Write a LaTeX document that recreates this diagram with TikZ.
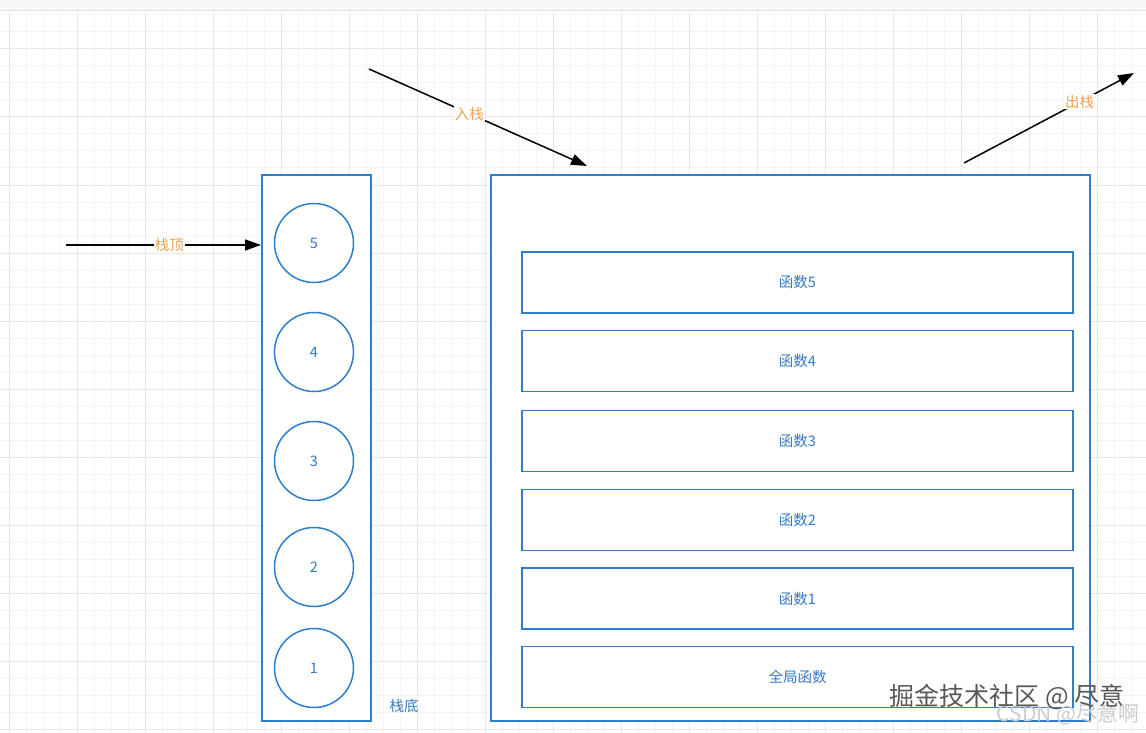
\documentclass[tikz,border=0pt]{standalone}
\usepackage{fontspec}
\setmainfont{Noto Sans CJK SC}
\newfontfamily\cjk{Noto Sans CJK SC}
\usetikzlibrary{arrows.meta}
\definecolor{stroke}{RGB}{47,125,205}
\definecolor{btext}{RGB}{52,122,196}
\definecolor{otext}{RGB}{240,160,80}
\definecolor{gminor}{RGB}{244,244,244}
\definecolor{gmajor}{RGB}{232,232,232}
\definecolor{bandfill}{RGB}{245,246,248}
\definecolor{bandline}{RGB}{225,227,230}
\tikzset{
  minorline/.style={draw=gminor, line width=1pt},
  majorline/.style={draw=gmajor, line width=1pt},
  frame/.style={draw=stroke, line width=1.5pt, fill=white},
  circ/.style={circle, draw=stroke, line width=1.5pt, fill=white, minimum size=79pt, inner sep=0pt, text=btext, font=\cjk\fontsize{14.5}{16}\selectfont},
  fbox/.style={rectangle, draw=stroke, line width=1.5pt, fill=white, minimum width=551pt, minimum height=61pt, inner sep=0pt, text=btext, font=\cjk\fontsize{14.5}{16}\selectfont},
  arr/.style={draw=black, line width=1.5pt, -{Triangle[length=16pt,width=11pt]}},
  lbl/.style={fill=white, inner sep=1pt, text=otext, font=\cjk\fontsize{14.5}{16}\selectfont},
  btlbl/.style={text=btext, inner sep=0pt, font=\cjk\fontsize{14.5}{16}\selectfont},
  wm/.style={inner sep=0pt, text=black!65, font=\cjk\fontsize{25}{27}\selectfont},
  wm2/.style={inner sep=0pt, text=black!20, font=\cjk\fontsize{21}{23}\selectfont}
}
\begin{document}
\begin{tikzpicture}[x=1pt,y=-1pt]
\useasboundingbox (0,0) rectangle (1146,733);
\fill[white] (0,0) rectangle (1146,733);
% grid
\foreach \i in {-1,...,67} \draw[minorline] ({9+17*\i},11) -- ({9+17*\i},733);
\foreach \j in {-2,...,41} \draw[minorline] (0,{49+17*\j}) -- (1146,{49+17*\j});
\foreach \i in {0,...,17} \draw[majorline] ({9+68*\i},11) -- ({9+68*\i},733);
\foreach \j in {0,...,10} \draw[majorline] (0,{49+68*\j}) -- (1146,{49+68*\j});
% top band
\fill[bandfill] (0,0) rectangle (1146,11);
\draw[draw=bandline, line width=1pt] (0,11) -- (1146,11);

% left stack
\node[frame, rectangle, minimum width=109pt, minimum height=546pt, inner sep=0pt] (stack) at (316.5,448) {};
\node[circ] (c5) at (314,243) {5};
\node[circ] (c4) at (314,352) {4};
\node[circ] (c3) at (314,461) {3};
\node[circ] (c2) at (314,567) {2};
\node[circ] (c1) at (314,668) {1};
\node[btlbl] (bottom) at (404,706) {栈底};

% big frame
\node[frame, rectangle, minimum width=599pt, minimum height=546pt, inner sep=0pt] (big) at (790.5,448) {};
\node[fbox] (f5) at (797.5,282.5) {函数5};
\node[fbox] (f4) at (797.5,361) {函数4};
\node[fbox] (f3) at (797.5,441) {函数3};
\node[fbox] (f2) at (797.5,520) {函数2};
\node[fbox] (f1) at (797.5,598.5) {函数1};
\node[fbox] (f0) at (797.5,677) {全局函数};

% arrows
\coordinate (topS) at (66,245);
\coordinate (topE) at (261,245);
\draw[arr] (topS) -- node[lbl, pos=0.53] (topL) {栈顶} (topE);

\coordinate (inS) at (369,69);
\coordinate (inE) at (587,166);
\draw[arr] (inS) -- node[lbl, pos=0.46] (inL) {入栈} (inE);

\coordinate (outS) at (964,163);
\coordinate (outE) at (1134,73);
\draw[arr] (outS) -- node[lbl, pos=0.68] (outL) {出栈} (outE);

% watermarks
\node[wm2] (wmB) at (1068,714) {CSDN @尽意啊};
\node[wm] (wmA) at (1007,697) {掘金技术社区 @ 尽意};
\end{tikzpicture}
\end{document}
